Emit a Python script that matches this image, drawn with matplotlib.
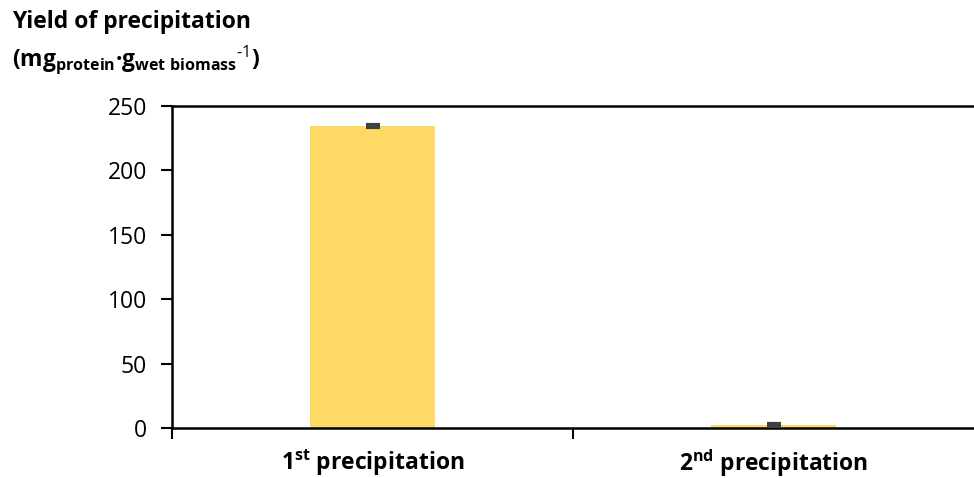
import matplotlib
matplotlib.use('Agg')
import matplotlib.pyplot as plt

plt.rcParams['font.family'] = 'Open Sans'
plt.rcParams['mathtext.fontset'] = 'custom'
plt.rcParams['mathtext.rm'] = 'Open Sans'
plt.rcParams['mathtext.bf'] = 'Open Sans:bold'
plt.rcParams['mathtext.it'] = 'Open Sans:italic'

categories = [r'$\mathbf{1^{st}}$ precipitation', r'$\mathbf{2^{nd}}$ precipitation']
yields = [234.5, 2.0]
errors = [1.0, 0.8]
yticks = [0, 50, 100, 150, 200, 250]

fig = plt.figure(figsize=(9.74, 4.78), dpi=100)
ax = fig.add_axes([172/974, 1 - 428/478, 1 - 172/974, 322/478])

x = [0.5, 1.5]
ax.bar(x, yields, width=0.31, color='#FFD966', zorder=2)
ax.errorbar(x, yields, yerr=errors, fmt='none', ecolor='#404040',
            elinewidth=2, capsize=5, capthick=3, zorder=3)

ax.set_xlim(0, 2)
ax.set_ylim(0, 250)
ax.set_yticks(yticks)
ax.tick_params(axis='y', labelsize=16.5, length=8, width=1.5, direction='out', pad=10)
ax.set_xticks([0, 1], minor=True)
ax.set_xticks(x)
ax.set_xticklabels(categories, fontsize=16.5, fontweight='bold')
ax.tick_params(axis='x', which='major', length=0, pad=14)
ax.tick_params(axis='x', which='minor', length=8, width=1.5, direction='out')

for s in ['left', 'bottom', 'top']:
    ax.spines[s].set_linewidth(1.8)
ax.spines['right'].set_visible(False)

fig.text(12/974, 1 - 22/478, 'Yield of precipitation', fontsize=16.5,
         fontweight='bold', va='center', ha='left')
fig.text(12/974, 1 - 60/478,
         '$\\mathbf{(mg_{protein}\u00b7g_{wet\\ biomass}{}^{\\text{-1}})}$',
         fontsize=16.5, va='center', ha='left')

fig.savefig('out.png', dpi=100)
